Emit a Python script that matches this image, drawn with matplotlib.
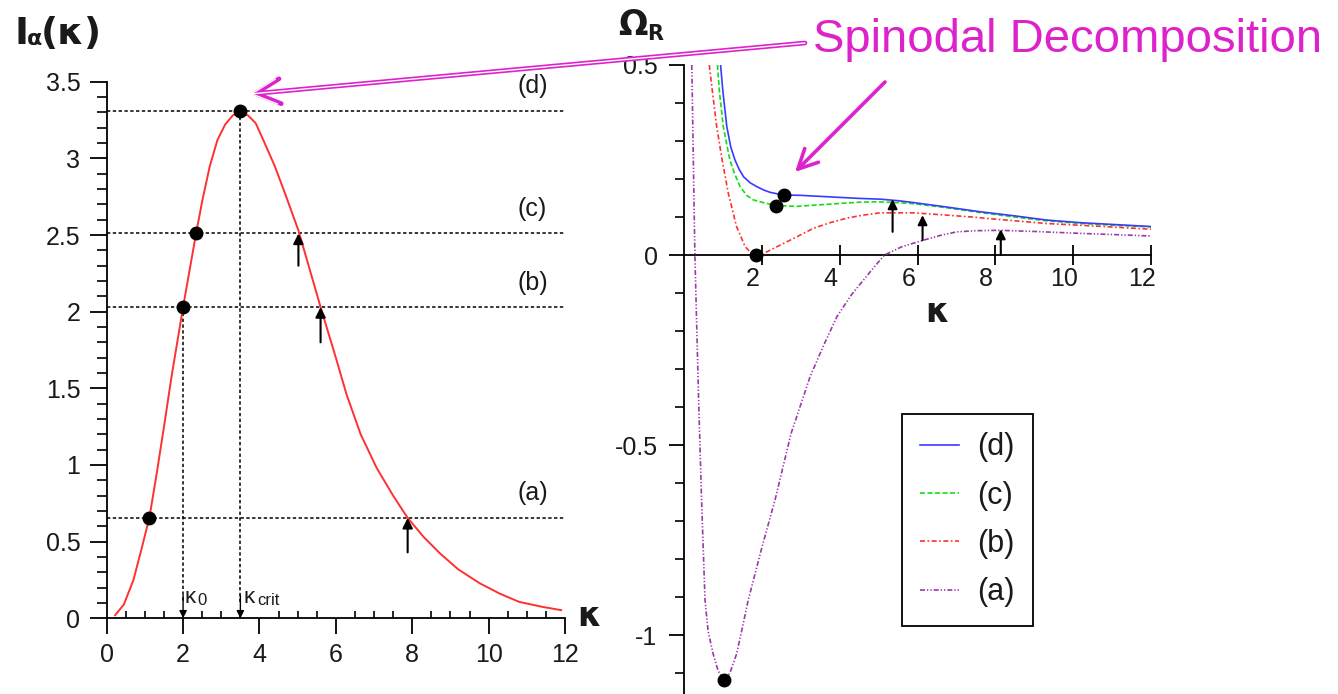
import matplotlib
matplotlib.use('Agg')
import matplotlib.pyplot as plt
import matplotlib.patches as mpatches
import matplotlib.transforms as mtransforms
from matplotlib.ticker import MultipleLocator, FixedLocator

plt.rcParams['font.family'] = ['Liberation Sans', 'DejaVu Sans']

# ---------------- data ----------------
# left panel: I_alpha(kappa)
k_I = [0.22, 0.45, 0.7, 0.92, 1.12, 1.3, 1.5, 1.7, 2.0, 2.34, 2.5, 2.7, 2.9, 3.1, 3.3, 3.5,
       3.7, 3.9, 4.1, 4.4, 4.7, 5.02, 5.6, 6.0, 6.28, 6.65, 7.07, 7.5, 7.88, 8.3, 8.72, 9.2,
       9.77, 10.3, 10.8, 11.4, 11.9]
I_vals = [0.02, 0.09, 0.25, 0.46, 0.66, 0.93, 1.25, 1.58, 2.03, 2.51, 2.72, 2.95, 3.12, 3.22,
          3.28, 3.3, 3.28, 3.23, 3.12, 2.95, 2.75, 2.53, 2.03, 1.70, 1.46, 1.2, 0.98, 0.8,
          0.655, 0.53, 0.425, 0.32, 0.228, 0.16, 0.107, 0.075, 0.053]
levels = [0.655, 2.03, 2.51, 3.31]           # (a), (b), (c), (d)
level_names = ['(a)', '(b)', '(c)', '(d)']
dots_left_k = [1.12, 2.0, 2.34, 3.5]
dots_left_I = [0.655, 2.03, 2.51, 3.31]
arr_left_k = [5.02, 5.6, 7.88]
arr_left_tail = [2.30, 1.80, 0.43]
arr_left_tip = [2.51, 2.03, 0.655]
k0, kcrit = 2.0, 3.5

# right panel: Omega_R(kappa)
k_d = [0.94, 1.0, 1.1, 1.2, 1.31, 1.42, 1.53, 1.7, 1.87, 2.05, 2.21, 2.4, 2.57, 3.0, 3.75,
       4.5, 5.04, 5.5, 5.9, 6.7, 7.6, 8.5, 9.32, 10.2, 11.1, 12.0]
w_d = [0.5, 0.43, 0.338, 0.285, 0.25, 0.225, 0.206, 0.19, 0.18, 0.171, 0.165, 0.161, 0.158,
       0.157, 0.153, 0.149, 0.147, 0.143, 0.138, 0.127, 0.114, 0.103, 0.092, 0.085, 0.08, 0.075]
k_c = [0.86, 0.91, 1.01, 1.1, 1.18, 1.3, 1.44, 1.61, 1.78, 2.04, 2.37, 2.9, 3.75, 4.5, 4.95,
       5.5, 5.9, 6.7, 7.6, 8.5, 9.32, 10.2, 11.1, 12.0]
w_c = [0.5, 0.43, 0.338, 0.29, 0.25, 0.214, 0.18, 0.157, 0.145, 0.138, 0.13, 0.128, 0.134,
       0.139, 0.14, 0.138, 0.135, 0.125, 0.112, 0.1, 0.09, 0.083, 0.078, 0.074]
k_b = [0.65, 0.73, 0.84, 0.98, 1.14, 1.35, 1.57, 1.72, 1.85, 2.1, 2.47, 2.9, 3.32, 3.75, 4.18,
       4.6, 5.04, 5.9, 6.75, 7.4, 8.04, 9.32, 10.6, 12.0]
w_b = [0.5, 0.43, 0.338, 0.25, 0.162, 0.075, 0.022, 0.006, 0.0, 0.007, 0.026, 0.048, 0.07,
       0.085, 0.097, 0.105, 0.111, 0.111, 0.105, 0.1, 0.094, 0.083, 0.076, 0.068]
k_a = [0.2, 0.28, 0.37, 0.45, 0.54, 0.62, 0.75, 0.88, 1.03, 1.18, 1.35, 1.5, 1.65, 2.0, 2.35,
       2.75, 3.24, 3.6, 3.93, 4.3, 4.61, 4.9, 5.15, 5.6, 6.15, 6.6, 7.01, 7.5, 8.12, 9.0,
       10.18, 11.0, 12.0]
w_a = [0.5, 0.0, -0.36, -0.64, -0.908, -0.99, -1.05, -1.095, -1.118, -1.1, -1.05, -0.98,
       -0.908, -0.77, -0.64, -0.47, -0.32, -0.235, -0.162, -0.105, -0.066, -0.03, 0.0, 0.022,
       0.039, 0.052, 0.061, 0.064, 0.065, 0.062, 0.057, 0.054, 0.05]
dots_right_k = [2.57, 2.37, 1.85, 1.03]
dots_right_w = [0.158, 0.13, 0.0, -1.118]
arr_right_k = [5.36, 6.13, 8.14]
arr_right_tail = [0.061, 0.039, 0.0]
arr_right_tip = [0.147, 0.105, 0.068]

# ---------------- figure ----------------
W, H = 1338, 694
fig = plt.figure(figsize=(W / 100, H / 100), dpi=100)


def fx(px):
    return px / W


def fy(py):
    return 1 - py / H


TXT = '#1a1a1a'

# ---------------- left panel ----------------
ax1 = fig.add_axes([fx(106.7), fy(618.3), 458.3 / W, 536.6 / H])
ax1.set_xlim(0, 12)
ax1.set_ylim(0, 3.5)
for s in ['top', 'right']:
    ax1.spines[s].set_visible(False)
for s in ['left', 'bottom']:
    ax1.spines[s].set_linewidth(1.3)
ax1.xaxis.set_major_locator(MultipleLocator(2))
ax1.xaxis.set_minor_locator(MultipleLocator(0.5))
ax1.yaxis.set_major_locator(MultipleLocator(0.5))
ax1.yaxis.set_minor_locator(MultipleLocator(0.1))
ax1.tick_params(axis='x', which='major', direction='out', length=11.5, width=1.3,
                labelsize=18, pad=6, labelcolor=TXT)
ax1.tick_params(axis='x', which='minor', direction='in', length=5, width=1.2)
ax1.tick_params(axis='y', which='major', direction='out', length=12, width=1.3,
                labelsize=18, pad=7, labelcolor=TXT)
ax1.tick_params(axis='y', which='minor', direction='out', length=7, width=1.2)
ax1.set_yticks([0, 0.5, 1, 1.5, 2, 2.5, 3, 3.5])
ax1.set_yticklabels(['0', '0.5', '1', '1.5', '2', '2.5', '3', '3.5'])

dot_style = dict(color='black', linewidth=1.1, dashes=(2.2, 1.6))
for lv, nm in zip(levels, level_names):
    ax1.plot([0, 12], [lv, lv], **dot_style, clip_on=False, zorder=2)
    ax1.text(11.15, lv + 0.16, nm, fontsize=18, color=TXT, ha='center', va='center')

for kx, top in [(k0, levels[1]), (kcrit, levels[3])]:
    ax1.plot([kx, kx], [top, 0.1], **dot_style, zorder=2)
    ax1.annotate('', xy=(kx, 0.0), xytext=(kx, 0.15),
                 arrowprops=dict(arrowstyle='-|>', color='black', lw=1.0,
                                 mutation_scale=11, shrinkA=0, shrinkB=0))
ax1.text(k0 + 0.03, 0.07, 'κ', fontsize=16, color=TXT, ha='left', va='bottom')
ax1.text(k0 + 0.38, 0.07, '0', fontsize=12, color=TXT, ha='left', va='bottom')
ax1.text(kcrit + 0.08, 0.07, 'κ', fontsize=16, color=TXT, ha='left', va='bottom')
ax1.text(kcrit + 0.43, 0.07, 'crit', fontsize=12, color=TXT, ha='left', va='bottom')

ax1.plot(k_I, I_vals, color='#ff3030', lw=1.4, zorder=3)
ax1.plot(dots_left_k, dots_left_I, 'o', color='black', ms=9, zorder=5, clip_on=False)

for kx, t0, t1 in zip(arr_left_k, arr_left_tail, arr_left_tip):
    ax1.annotate('', xy=(kx, t1), xytext=(kx, t0),
                 arrowprops=dict(arrowstyle='-|>', color='black', lw=1.5,
                                 mutation_scale=15, shrinkA=0, shrinkB=0), zorder=6)

# ---------------- right panel ----------------
ax2 = fig.add_axes([fx(684), 0, 467 / W, fy(65)])
ax2.set_xlim(0, 12)
ax2.set_ylim(-1.155, 0.5)
for s in ['top', 'right']:
    ax2.spines[s].set_visible(False)
ax2.spines['bottom'].set_position(('data', 0))
for s in ['left', 'bottom']:
    ax2.spines[s].set_linewidth(1.3)
ax2.xaxis.set_major_locator(FixedLocator([2, 4, 6, 8, 10, 12]))
ax2.yaxis.set_major_locator(FixedLocator([-1, -0.5, 0, 0.5]))
ax2.yaxis.set_minor_locator(MultipleLocator(0.1))
ax2.set_yticklabels(['-1', '-0.5', '0', '0.5'])
ax2.tick_params(axis='x', which='major', direction='inout', length=15, width=1.3,
                labelsize=18, pad=1, labelcolor=TXT)
ax2.tick_params(axis='y', which='major', direction='out', length=11, width=1.3,
                labelsize=18, pad=8, labelcolor=TXT)
ax2.tick_params(axis='y', which='minor', direction='out', length=6.5, width=1.2)
off = mtransforms.ScaledTranslation(-0.09, 0, fig.dpi_scale_trans)
for lab in ax2.get_xticklabels():
    lab.set_transform(lab.get_transform() + off)

lw = 1.2
ld, = ax2.plot(k_d, w_d, color='#3a3aff', lw=lw, label='(d)', zorder=4)
lc, = ax2.plot(k_c, w_c, color='#10e010', lw=lw, dashes=(3, 1.5), label='(c)', zorder=3)
lb, = ax2.plot(k_b, w_b, color='#ff3030', lw=lw, dashes=(3, 1.5, 1, 1.5), label='(b)', zorder=3)
la, = ax2.plot(k_a, w_a, color='#9a3aa8', lw=lw, dashes=(3, 1.2, 0.8, 1.2, 0.8, 1.2),
               label='(a)', zorder=3)
ax2.plot(dots_right_k, dots_right_w, 'o', color='black', ms=9, zorder=6, clip_on=False)

for kx, t0, t1 in zip(arr_right_k, arr_right_tail, arr_right_tip):
    ax2.annotate('', xy=(kx, t1), xytext=(kx, t0),
                 arrowprops=dict(arrowstyle='-|>', color='black', lw=1.5,
                                 mutation_scale=14, shrinkA=0, shrinkB=0), zorder=6)

leg = ax2.legend(handles=[ld, lc, lb, la], loc='upper left',
                 bbox_to_anchor=(fx(902), fy(414)), bbox_transform=fig.transFigure,
                 borderaxespad=0, fancybox=False, edgecolor='black', framealpha=1,
                 fontsize=22, handlelength=1.25, handletextpad=0.6, labelspacing=0.6,
                 borderpad=0.6)
leg.get_frame().set_linewidth(1.3)
for t in leg.get_texts():
    t.set_color(TXT)

# ---------------- axis titles ----------------
bold = dict(family='DejaVu Sans', weight='bold', color=TXT)
fig.text(fx(14), fy(44), 'I', fontsize=27, va='baseline', ha='left', **bold)
fig.text(fx(27), fy(45), 'α', fontsize=16, va='baseline', ha='left', **bold)
fig.text(fx(41), fy(44), '(κ)', fontsize=27, va='baseline', ha='left', **bold)
fig.text(fx(618), fy(35), 'Ω', fontsize=25, va='baseline', ha='left', **bold)
fig.text(fx(647), fy(40), 'R', fontsize=15, va='baseline', ha='left', **bold)
fig.text(fx(589), fy(617), 'κ', fontsize=24, va='center', ha='center', **bold)
fig.text(fx(937), fy(312), 'κ', fontsize=24, va='center', ha='center', **bold)

# ---------------- annotation ----------------
MAG = '#dd22cc'
fig.text(fx(1068), fy(40), 'Spinodal Decomposition', fontsize=34, color=MAG,
         ha='center', va='center')
fig.add_artist(mpatches.FancyArrowPatch(
    (805, H - 43), (250, H - 94), arrowstyle='->', mutation_scale=45, lw=3.4,
    color=MAG, shrinkA=0, shrinkB=0, transform=None))
fig.add_artist(mpatches.FancyArrowPatch(
    (805, H - 43), (250, H - 94), arrowstyle='->', mutation_scale=45, lw=1.0,
    color='white', shrinkA=0, shrinkB=0, transform=None))
fig.add_artist(mpatches.FancyArrowPatch(
    (885, H - 82), (795, H - 172), arrowstyle='->', mutation_scale=35, lw=2.6,
    color=MAG, shrinkA=0, shrinkB=0, transform=None))

fig.savefig('out.png', dpi=100)
